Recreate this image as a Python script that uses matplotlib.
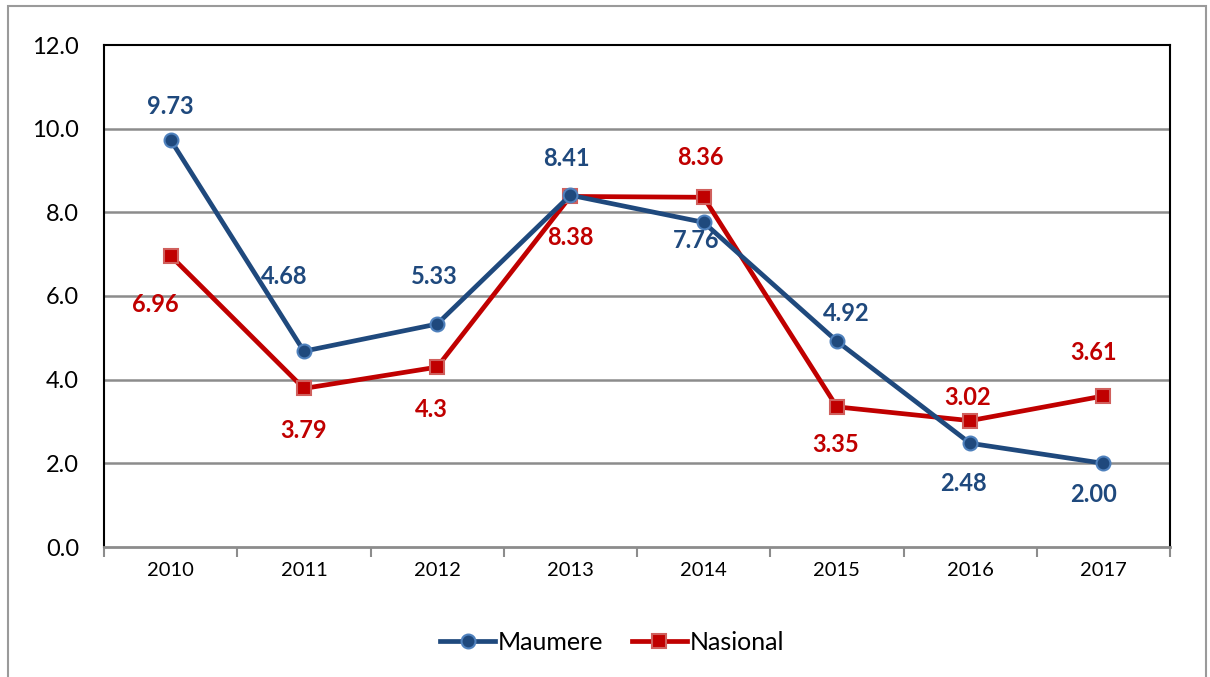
import matplotlib
matplotlib.use("Agg")
import matplotlib.pyplot as plt
from matplotlib.patches import Rectangle

years = ["2010", "2011", "2012", "2013", "2014", "2015", "2016", "2017"]
maumere = [9.73, 4.68, 5.33, 8.41, 7.76, 4.92, 2.48, 2.00]
nasional = [6.96, 3.79, 4.3, 8.38, 8.36, 3.35, 3.02, 3.61]
maumere_labels = ["9.73", "4.68", "5.33", "8.41", "7.76", "4.92", "2.48", "2.00"]
nasional_labels = ["6.96", "3.79", "4.3", "8.38", "8.36", "3.35", "3.02", "3.61"]
yticks = [0, 2, 4, 6, 8, 10, 12]

# label offsets in pixels (dx, dy)
m_off = [(0, 33), (-20, 75), (-3, 48), (-4, 37), (-8, -18), (9, 28), (-7, -40), (-10, -31)]
n_off = [(-15, -49), (0, -42), (-6, -42), (0, -41), (-3, 40), (-1, -38), (-2, 23), (-10, 43)]

plt.rcParams['font.family'] = ['Lato', 'DejaVu Sans']

fig = plt.figure(figsize=(12.1, 6.77), dpi=100)
W, H = 1210, 677
ax = fig.add_axes([104 / W, 1 - 547 / H, (1170 - 104) / W, (547 - 45) / H])

# outer border
fig.patches.append(Rectangle((8 / W, -0.01), (1206 - 8) / W, 1 - 6 / H + 0.01,
                             transform=fig.transFigure, fill=False,
                             edgecolor='#9a9a9a', linewidth=1.5))

x = list(range(len(years)))
blue = '#1F497D'
red = '#C00000'
ax.plot(x, maumere, color=blue, linewidth=3.4, marker='o', markersize=10,
        markerfacecolor=blue, markeredgecolor='#4F81BD', markeredgewidth=1.5,
        label='Maumere', zorder=4)
ax.plot(x, nasional, color=red, linewidth=3.4, marker='s', markersize=10,
        markerfacecolor=red, markeredgecolor='#D0605D', markeredgewidth=1.5,
        label='Nasional', zorder=3)

for i in x:
    ax.annotate(maumere_labels[i], (i, maumere[i]), xytext=m_off[i],
                textcoords='offset pixels', ha='center', va='center',
                color=blue, fontsize=17, fontweight='bold', zorder=5)
    ax.annotate(nasional_labels[i], (i, nasional[i]), xytext=n_off[i],
                textcoords='offset pixels', ha='center', va='center',
                color=red, fontsize=17, fontweight='bold', zorder=5)

ax.set_xlim(-0.5, len(years) - 0.5)
ax.set_ylim(0, 12)
ax.set_yticks(yticks)
ax.set_yticklabels([f"{v:.1f}" for v in yticks], fontsize=17)
ax.set_xticks(x)
ax.set_xticklabels(years, fontsize=14.5)
ax.tick_params(axis='x', length=0, pad=11)
ax.tick_params(axis='y', length=0, pad=18)
ax.set_xticks([i - 0.5 for i in range(len(years) + 1)], minor=True)
ax.tick_params(axis='x', which='minor', length=7, width=1.5, color='#8c8c8c')

for v in yticks[1:-1]:
    ax.axhline(v, color='#8c8c8c', linewidth=1.8, zorder=1)

ax.spines['top'].set_color('black')
ax.spines['top'].set_linewidth(1.5)
ax.spines['right'].set_color('black')
ax.spines['right'].set_linewidth(1.5)
ax.spines['left'].set_color('black')
ax.spines['left'].set_linestyle((0, (1, 1)))
ax.spines['left'].set_linewidth(1.5)
ax.spines['bottom'].set_color('#8c8c8c')
ax.spines['bottom'].set_linewidth(2)

leg = fig.legend(loc='center', bbox_to_anchor=(612 / W, 1 - 642 / H), ncol=2,
                 frameon=False, fontsize=18, handlelength=2.2, handletextpad=0.1,
                 columnspacing=1.15, borderpad=0, borderaxespad=0)

fig.savefig('out.png', dpi=100)
